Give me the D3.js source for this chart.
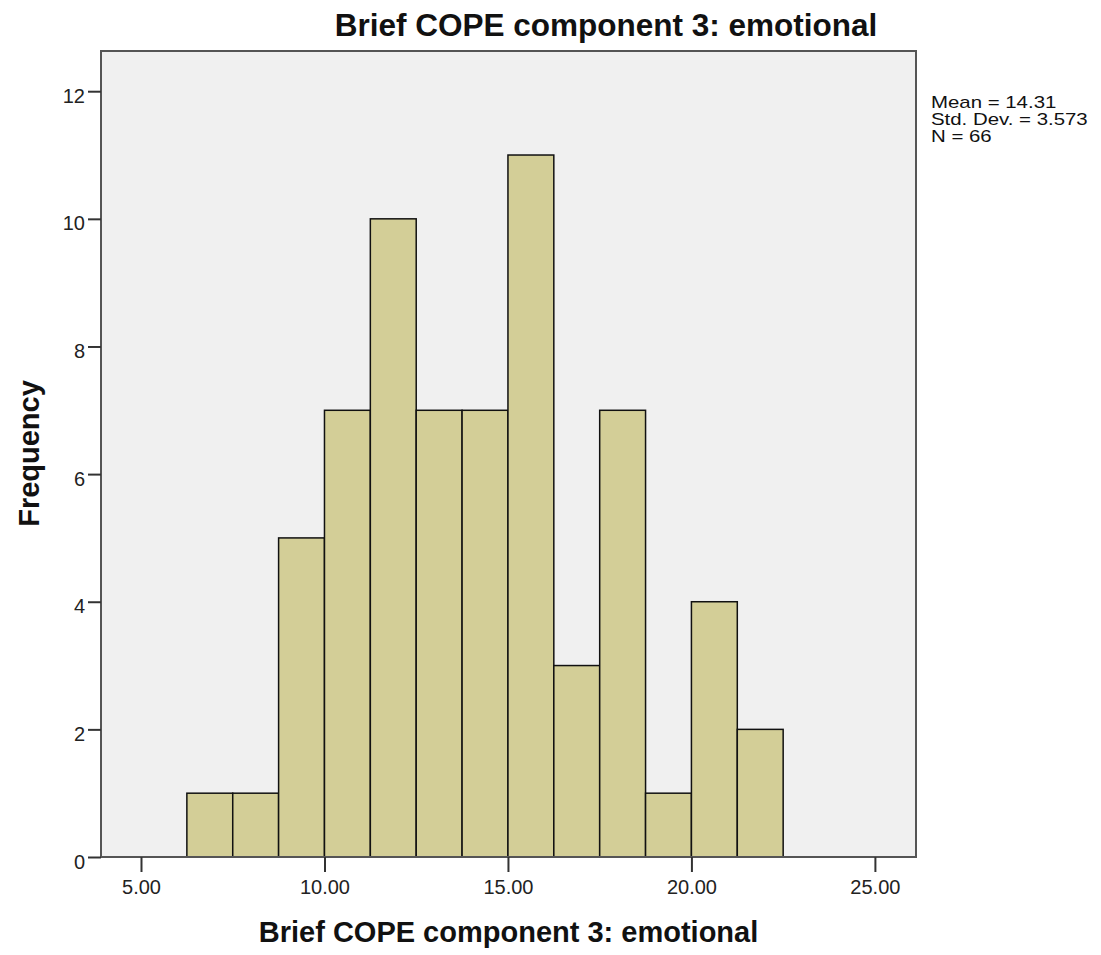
<!DOCTYPE html>
<html><head><meta charset="utf-8">
<script src="https://cdn.jsdelivr.net/npm/d3@7"></script>
<style>body{margin:0;background:#fff}svg{display:block}text{font-family:Arial,"Liberation Sans",sans-serif}</style>
</head><body>
<svg id="c" width="1101" height="955"></svg>
<script>
const binStarts = [6.25,7.5,8.75,10,11.25,12.5,13.75,15,16.25,17.5,18.75,20,21.25];
const binWidth = 1.25;
const counts = [1,1,5,7,10,7,7,11,3,7,1,4,2];
const xTicks = [5,10,15,20,25];
const yTicks = [0,2,4,6,8,10,12];
const statsLines = ["Mean = 14.31","Std. Dev. = 3.573","N = 66"];
const title = "Brief COPE component 3: emotional";
const xLabel = "Brief COPE component 3: emotional";
const yLabel = "Frequency";

const svg = d3.select("#c");
const L=101,R=916,T=51,B=857;
const x = d3.scaleLinear().domain([3.91,26.12]).range([L,R]);
const y = d3.scaleLinear().domain([0,12.63]).range([B,T]);

svg.append("rect").attr("x",L).attr("y",T).attr("width",R-L).attr("height",B-T).attr("fill","#f0f0f0");

svg.selectAll("rect.bar").data(counts).enter().append("rect").attr("class","bar")
 .attr("x",(d,i)=>x(binStarts[i])).attr("width",(d,i)=>x(binStarts[i]+binWidth)-x(binStarts[i]))
 .attr("y",d=>y(d)).attr("height",d=>y(0)-y(d))
 .attr("fill","#d3ce97").attr("stroke","#111").attr("stroke-width",1.5);

svg.append("rect").attr("x",L).attr("y",T).attr("width",R-L).attr("height",B-T)
 .attr("fill","none").attr("stroke","#555").attr("stroke-width",2);

const xa = svg.append("g").attr("transform",`translate(0,${B})`)
 .call(d3.axisBottom(x).tickValues(xTicks).tickFormat(d3.format(".2f")).tickSize(15).tickSizeOuter(0));
xa.select(".domain").remove();
xa.selectAll("line").attr("stroke","#333").attr("stroke-width",2);
xa.selectAll("text").attr("font-size",20).attr("fill","#222").attr("dy",null).attr("y",37);

const ya = svg.append("g").attr("transform",`translate(${L},0)`)
 .call(d3.axisLeft(y).tickValues(yTicks).tickSize(13).tickSizeOuter(0));
ya.select(".domain").remove();
ya.selectAll("line").attr("stroke","#333").attr("stroke-width",2);
ya.selectAll("text").attr("font-size",20).attr("fill","#222").attr("x",-16).attr("dy",null).attr("y",11);

svg.append("text").attr("x",606).attr("y",36).attr("text-anchor","middle")
 .attr("font-size",31.5).attr("font-weight","bold").attr("fill","#111").text(title);
svg.append("text").attr("x",508.5).attr("y",942).attr("text-anchor","middle")
 .attr("font-size",29).attr("font-weight","bold").attr("fill","#111").text(xLabel);
svg.append("text").attr("transform","translate(39,453.5) rotate(-90)").attr("text-anchor","middle")
 .attr("font-size",29).attr("font-weight","bold").attr("fill","#111").text(yLabel);

svg.append("g").selectAll("text").data(statsLines).enter().append("text")
 .attr("x",931).attr("y",(d,i)=>108+i*17).attr("font-size",17).attr("fill","#111").text(d=>d)
 .each(function(){const n=this.getComputedTextLength();d3.select(this).attr("textLength",n*1.2).attr("lengthAdjust","spacingAndGlyphs");});
</script>
</body></html>
